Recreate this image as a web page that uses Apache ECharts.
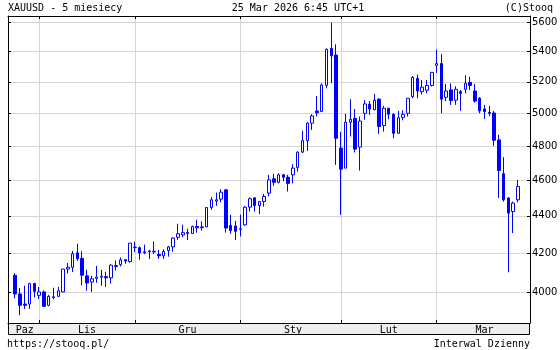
<!DOCTYPE html>
<html>
<head>
<meta charset="utf-8">
<script src="https://cdn.jsdelivr.net/npm/echarts@6/dist/echarts.min.js"></script>
<style>
html,body{margin:0;padding:0;background:#fff;}
#chart{width:560px;height:350px;}
</style>
</head>
<body>
<div id="chart"></div>
<script>
// ---- data (XAUUSD daily) ----
const dates = [
'2025-10-27','2025-10-28','2025-10-29','2025-10-30','2025-10-31',
'2025-11-03','2025-11-04','2025-11-05','2025-11-06','2025-11-07','2025-11-10','2025-11-11','2025-11-12','2025-11-13','2025-11-14',
'2025-11-17','2025-11-18','2025-11-19','2025-11-20','2025-11-21','2025-11-24','2025-11-25','2025-11-26','2025-11-27','2025-11-28',
'2025-12-01','2025-12-02','2025-12-03','2025-12-04','2025-12-05','2025-12-08','2025-12-09','2025-12-10','2025-12-11','2025-12-12',
'2025-12-15','2025-12-16','2025-12-17','2025-12-18','2025-12-19','2025-12-22','2025-12-23','2025-12-24','2025-12-26','2025-12-29',
'2025-12-30','2025-12-31',
'2026-01-02','2026-01-05','2026-01-06','2026-01-07','2026-01-08','2026-01-09','2026-01-12','2026-01-13','2026-01-14','2026-01-15',
'2026-01-16','2026-01-19','2026-01-20','2026-01-21','2026-01-22','2026-01-23','2026-01-26','2026-01-27','2026-01-28','2026-01-29',
'2026-01-30',
'2026-02-02','2026-02-03','2026-02-04','2026-02-05','2026-02-06','2026-02-09','2026-02-10','2026-02-11','2026-02-12','2026-02-13',
'2026-02-16','2026-02-17','2026-02-18','2026-02-19','2026-02-20','2026-02-23','2026-02-24','2026-02-25','2026-02-26','2026-02-27',
'2026-03-02','2026-03-03','2026-03-04','2026-03-05','2026-03-06','2026-03-09','2026-03-10','2026-03-11','2026-03-12','2026-03-13',
'2026-03-16','2026-03-17','2026-03-18','2026-03-19','2026-03-20','2026-03-23','2026-03-24','2026-03-25'
];
const openVals = [
4086,3992,3942,3942,4044,
3985,4002,3936,3974,3980,4002,4118,4127,4202,4173,4083,4052,4070,4076,4079,4073,4131,4140,4166,4157,
4230,4229,4207,4208,4207,4193,4186,4214,4233,4284,4297,4304,4304,4342,4336,4340,4446,4482,4493,4545,4348,4345,
4326,4351,4448,4500,4457,4480,4527,4608,4588,4631,4617,4631,4673,4764,4833,4939,5015,5011,5177,5421,5377,
4788,4670,4945,4969,4794,5000,5057,5023,5089,4924,5032,4994,4877,4975,5000,5105,5222,5137,5146,5177,
5308,5320,5101,5148,5083,5137,5152,5196,5141,5095,5027,5006,5002,4837,4637,4499,4424,4489
];
const closeVals = [
3992,3936,3936,4044,4005,
4002,3931,3980,3978,4008,4118,4127,4197,4171,4086,4047,4068,4077,4081,4073,4138,4136,4165,4160,4253,
4232,4201,4203,4212,4210,4186,4209,4233,4280,4303,4309,4310,4342,4335,4340,4446,4489,4489,4532,4334,4320,4316,
4330,4448,4495,4457,4480,4508,4602,4588,4631,4617,4582,4670,4764,4833,4939,4984,5003,5180,5416,5372,4847,
4664,4945,4963,4782,4952,5059,5027,5083,4918,5032,4994,4877,4973,4994,5095,5229,5141,5166,5177,5262,
5320,5089,5141,5080,5152,5126,5191,5177,5077,5015,5011,5000,4835,4656,4489,4415,4471,4564
];
const lowVals = [
3970,3887,3918,3918,3975,
3967,3928,3931,3965,3980,4002,4095,4102,4160,4035,4008,4002,4048,4033,4027,4044,4110,4131,4145,4150,
4205,4166,4195,4170,4195,4170,4170,4182,4208,4270,4284,4270,4304,4309,4320,4340,4433,4455,4475,4309,4304,4270,
4289,4347,4424,4424,4410,4451,4508,4568,4582,4594,4536,4582,4650,4758,4771,4898,4980,5011,5158,5191,4689,
4406,4670,4858,4762,4656,4960,4990,5019,4874,4887,4963,4847,4877,4957,4980,5095,5095,5119,5126,5170,
5259,5000,5077,5053,5053,5015,5126,5148,5067,5000,4965,4982,4801,4499,4479,4101,4307,4475
];
const highVals = [
4097,4022,4033,4048,4048,
4027,4010,3987,4023,4027,4118,4149,4212,4250,4210,4114,4083,4134,4114,4104,4143,4162,4178,4170,4253,
4261,4236,4245,4218,4262,4218,4221,4239,4284,4357,4352,4330,4347,4379,4370,4446,4504,4530,4549,4549,4406,4373,
4406,4454,4502,4502,4480,4522,4631,4637,4640,4637,4631,4693,4768,4892,4945,4995,5109,5191,5421,5600,5449,
4887,4997,5089,5027,4980,5083,5077,5122,5095,5046,5032,5000,5015,5019,5095,5238,5248,5212,5212,5262,
5414,5383,5187,5190,5172,5148,5243,5233,5187,5102,5053,5046,5015,4868,4734,4505,4479,4602
];
const yTickValues = [4000,4200,4400,4600,4800,5000,5200,5400,5600];
const monthNames = {'10':'Paz','11':'Lis','12':'Gru','01':'Sty','02':'Lut','03':'Mar'};
const titleText = 'XAUUSD - 5 miesiecy';
const stampText = '25 Mar 2026 6:45 UTC+1';
const copyText = '(C)Stooq';
const urlText = 'https://stooq.pl/';
const intervalText = 'Interwal Dzienny';

// ---- derived axis helpers ----
const padStart = ['pad-s0'];
const padEnd = ['pad-e0','pad-e1'];
const categories = padStart.concat(dates, padEnd);
const off = padStart.length;
const candleData = dates.map((d, i) => [d, openVals[i], closeVals[i], lowVals[i], highVals[i]]);

// month boundaries (category index of first trading day of each month)
const monthStarts = [];
const monthKeys = [];
dates.forEach((d, i) => {
  const m = d.slice(5, 7);
  if (i === 0 || m !== dates[i - 1].slice(5, 7)) { monthStarts.push(i + off); monthKeys.push(m); }
});
const gridIdx = new Set(monthStarts.slice(1));
const labelMap = {};
for (let k = 0; k < monthStarts.length; k++) {
  const s = k === 0 ? -0.5 : monthStarts[k];
  const e = k + 1 < monthStarts.length ? monthStarts[k + 1] : categories.length - 0.5;
  labelMap[Math.round((s + e) / 2)] = monthNames[monthKeys[k]];
}

const MONO = '"DejaVu Sans Mono", monospace';
const SANS = '"DejaVu Sans", sans-serif';
const YMIN = 3850, YMAX = 5645;

const chart = echarts.init(document.getElementById('chart'), null, {renderer: 'canvas'});
chart.setOption({
  animation: false,
  backgroundColor: '#ffffff',
  grid: {left: 8, right: 30, top: 16, bottom: 27, containLabel: false, outerBoundsMode: 'none'},
  xAxis: [{
    type: 'category',
    data: categories,
    position: 'bottom',
    boundaryGap: true,
    axisLine: {show: true, lineStyle: {color: '#000', width: 1}},
    axisTick: {show: true, inside: true, length: 3, alignWithLabel: true,
      interval: (i) => gridIdx.has(i), lineStyle: {color: '#000'}},
    splitLine: {show: true, alignWithLabel: true, interval: (i) => gridIdx.has(i),
      lineStyle: {color: '#d6d6d6', width: 1}},
    axisLabel: {show: true, interval: (i) => labelMap.hasOwnProperty(i),
      formatter: (v, i) => labelMap[i] || '', margin: 2,
      fontFamily: MONO, fontSize: 10, color: '#000', lineHeight: 11}
  }, {
    type: 'category',
    data: categories,
    position: 'top',
    boundaryGap: true,
    axisLine: {show: true, lineStyle: {color: '#000', width: 1}},
    axisTick: {show: true, inside: true, length: 3, alignWithLabel: true,
      interval: (i) => gridIdx.has(i), lineStyle: {color: '#000'}},
    splitLine: {show: false},
    axisLabel: {show: false}
  }],
  yAxis: [{
    type: 'log',
    logBase: 10,
    position: 'right',
    min: YMIN, max: YMAX,
    axisLine: {show: true, lineStyle: {color: '#000', width: 1}},
    axisTick: {show: true, inside: true, length: 3, customValues: yTickValues, lineStyle: {color: '#000'}},
    splitLine: {show: true, lineStyle: {color: '#d6d6d6', width: 1}},
    minorTick: {show: false}, minorSplitLine: {show: false},
    axisLabel: {show: true, customValues: yTickValues, margin: 2,
      formatter: (v) => String(Math.round(v)),
      fontFamily: SANS, fontSize: 10, color: '#000'}
  }, {
    type: 'log',
    logBase: 10,
    position: 'left',
    min: YMIN, max: YMAX,
    axisLine: {show: true, lineStyle: {color: '#000', width: 1}},
    axisTick: {show: true, inside: true, length: 3, customValues: yTickValues, lineStyle: {color: '#000'}},
    splitLine: {show: false},
    axisLabel: {show: false}
  }],
  series: [{
    type: 'candlestick',
    xAxisIndex: 0,
    yAxisIndex: 0,
    data: candleData,
    encode: {x: 0, y: [1, 2, 3, 4]},
    barWidth: 3,
    itemStyle: {color: '#ffffff', color0: '#0000ff', borderColor: '#0000ff', borderColor0: '#0000ff', borderWidth: 1},
    emphasis: {disabled: true}
  }],
  graphic: [
    {type: 'rect', z: -1, silent: true, shape: {x: 8.5, y: 323.5, width: 521, height: 11},
      style: {fill: '#eeeeee', stroke: '#000', lineWidth: 1}},
    {type: 'text', silent: true, x: 8, y: 3, style: {text: titleText, font: '10px ' + MONO, fill: '#000', align: 'left', verticalAlign: 'top'}},
    {type: 'text', silent: true, x: 298, y: 3, style: {text: stampText, font: '10px ' + MONO, fill: '#000', align: 'center', verticalAlign: 'top'}},
    {type: 'text', silent: true, x: 553, y: 3, style: {text: copyText, font: '10px ' + MONO, fill: '#000', align: 'right', verticalAlign: 'top'}},
    {type: 'text', silent: true, x: 7, y: 339, style: {text: urlText, font: '10px ' + MONO, fill: '#000', align: 'left', verticalAlign: 'top'}},
    {type: 'text', silent: true, x: 530, y: 339, style: {text: intervalText, font: '10px ' + MONO, fill: '#000', align: 'right', verticalAlign: 'top'}}
  ]
});
</script>
</body>
</html>
